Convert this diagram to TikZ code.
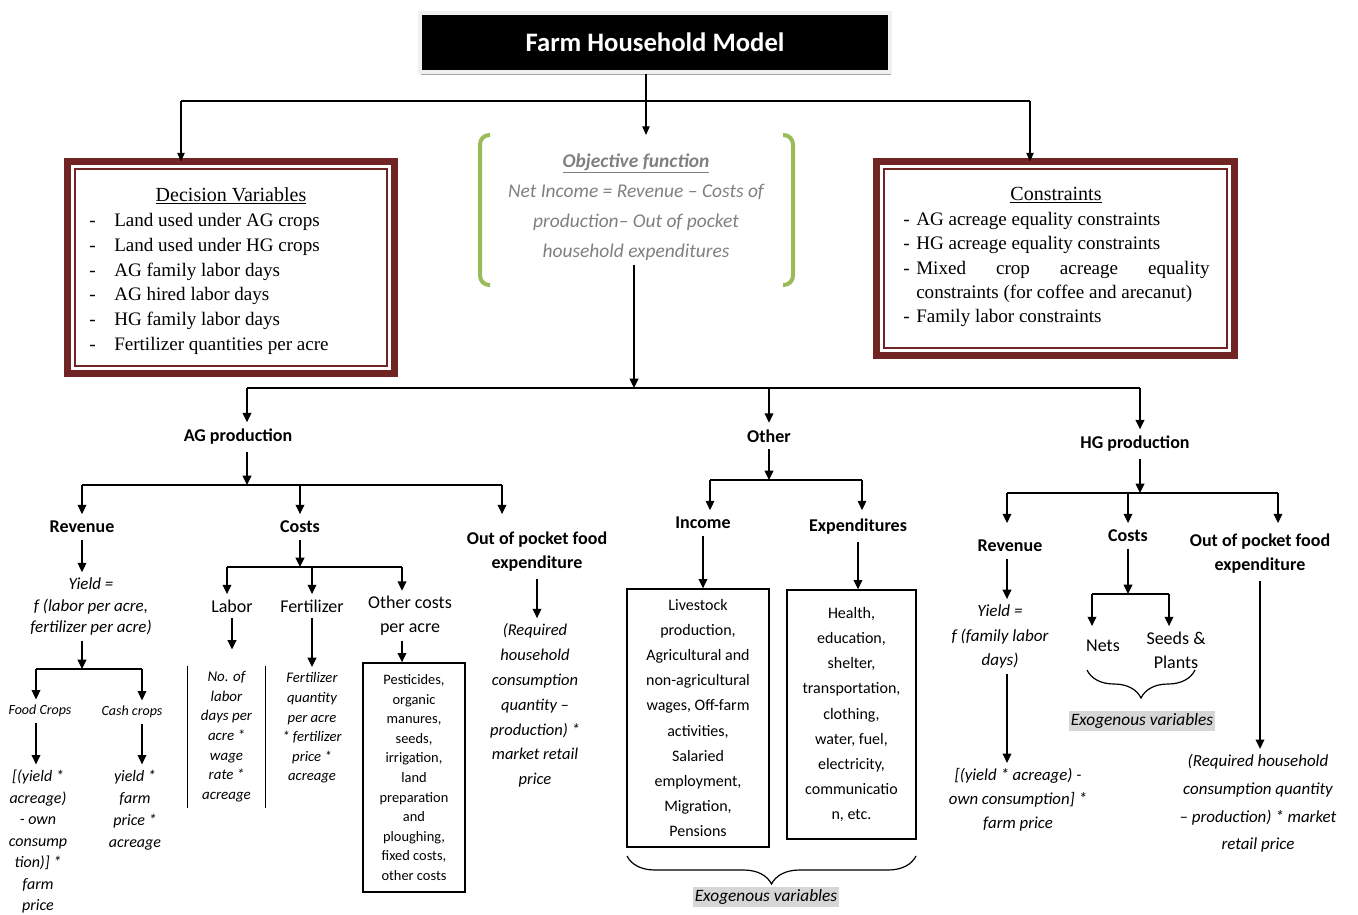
\documentclass[tikz,border=0pt]{standalone}
\usepackage{fontspec}
\setmainfont{Carlito}
\newfontfamily\boxserif{Liberation Serif}
\usetikzlibrary{arrows.meta,calc,decorations.pathreplacing,shadows}

\definecolor{boxred}{RGB}{112,36,36}
\definecolor{objgreen}{RGB}{155,187,89}
\definecolor{objgray}{RGB}{128,128,128}
\definecolor{exogray}{RGB}{214,214,214}

\newcommand{\fsz}[2]{\fontsize{#1}{#2}\selectfont}
\newcommand{\dvitem}[1]{\makebox[18.75pt][l]{-}#1}
\newcommand{\csitem}[1]{\makebox[9.75pt][l]{-}#1}

\tikzset{
  arr/.style={-{Triangle[width=6.5pt,length=7pt]}, line width=1.1pt},
  toparr/.style={-{Triangle[width=5.5pt,length=6.5pt]}, line width=0.9pt},
  toplink/.style={line width=0.9pt},
  busline/.style={line width=1.1pt},
  ttl/.style={fill=black, draw=gray!12, line width=2.5pt, text=white,
    font=\bfseries\fsz{20}{24}, minimum width=352.5pt, minimum height=44.25pt,
    drop shadow={shadow xshift=1pt, shadow yshift=-2.5pt, fill=gray!70, opacity=1}},
  redbox/.style={draw=boxred, line width=5.25pt, outer sep=0pt, fill=white, inner sep=0pt},
  boxtxt/.style={font=\boxserif\fsz{14.3}{18.5}, inner sep=0pt},
  head/.style={font=\bfseries\fsz{13.5}{18}, align=center, inner xsep=2pt, inner ysep=5pt},
  sub/.style={font=\fsz{13.5}{18}, align=center, inner xsep=2pt, inner ysep=4pt},
  frml/.style={font=\itshape\fsz{12.7}{16.1}, align=center, inner xsep=2pt, inner ysep=4pt},
  small/.style={font=\itshape\fsz{10.5}{13}, align=center, inner xsep=2pt, inner ysep=4pt},
  listbox/.style={draw, line width=1pt, align=center, font=\fsz{12}{18.8}, inner sep=0pt},
  exo/.style={fill=exogray, font=\itshape\fsz{13}{15}, inner xsep=1.5pt, inner ysep=2pt},
  brc/.style={decorate, decoration={brace, mirror, amplitude=21pt}, line width=0.9pt},
  bracket/.style={objgreen, line width=3pt, rounded corners=7pt}
}

\begin{document}
\begin{tikzpicture}[x=0.75pt,y=-0.75pt]
\useasboundingbox (0,0) rectangle (1358,914);

% Title
\node[ttl] (title) at (655,42.5) {Farm Household Model};

% Decision variables box
\node[redbox, minimum width=245.25pt, minimum height=159pt] (dv) at (231,267.5) {};
\draw[boxred, line width=1.1pt] ($(dv.north west)+(7.5,7.5)$) rectangle ($(dv.south east)-(7.5,7.5)$);
\node[boxtxt, font=\boxserif\fsz{15}{18.5}] (dvhead) at (231,196) {\underline{Decision Variables}};
\node[boxtxt, align=left, anchor=west] (dvlist) at (89,284) {%
  \dvitem{Land used under AG crops}\\
  \dvitem{Land used under HG crops}\\
  \dvitem{AG family labor days}\\
  \dvitem{AG hired labor days}\\
  \dvitem{HG family labor days}\\
  \dvitem{Fertilizer quantities per acre}};

% Constraints box
\node[redbox, minimum width=268.5pt, minimum height=145.5pt] (cs) at (1055.5,258.5) {};
\draw[boxred, line width=1.1pt] ($(cs.north west)+(7.5,7.5)$) rectangle ($(cs.south east)-(7.5,7.5)$);
\node[boxtxt, font=\boxserif\fsz{15}{18.5}] (cshead) at (1056,195) {\underline{Constraints}};
\node[boxtxt, align=left, anchor=west, font=\boxserif\fsz{14.3}{18.2}] (cslist) at (903,269.5) {%
  \csitem{AG acreage equality constraints}\\
  \csitem{HG acreage equality constraints}\\
  \csitem{\makebox[220pt][s]{Mixed\hfill crop\hfill acreage\hfill equality}}\\
  \hspace*{9.75pt}constraints (for coffee and arecanut)\\
  \csitem{Family labor constraints}};

% Objective function
\draw[bracket] (490,135) -- (480,135) -- (480,285) -- (490,285);
\draw[bracket] (783,135) -- (793,135) -- (793,285) -- (783,285);
\node[font=\itshape\fsz{14.6}{22.5}, text=objgray, align=center] (obj) at (636,207)
  {\textbf{\underline{Objective function}}\\
   Net Income = Revenue – Costs of\\
   production– Out of pocket\\
   household expenditures};

% Links from the title
\coordinate (tl) at (181,101);
\coordinate (tm) at (646,101);
\coordinate (tr) at (1030,101);
\coordinate (objtop) at (646,135);
\draw[toplink] (title.south -| tm) -- (tm);
\draw[toplink] (tl) -- (tr);
\draw[toparr] (tl) -- (tl |- dv.north);
\draw[toparr] (tm) -- (objtop);
\draw[toparr] (tr) -- (tr |- cs.north);

% Second level
\coordinate (mid) at (634,388);
\coordinate (busL) at (247,388);
\coordinate (busR) at (1140,388);
\draw[arr] (obj.south -| mid) -- (mid);
\draw[busline] (busL) -- (busR);
\node[head] (ag) at (238,437) {AG production};
\node[head] (oth) at (769,436) {Other};
\node[head] (hg) at (1135,444) {HG production};
\draw[arr] (busL) -- (busL |- ag.north);
\draw[arr] (oth |- busL) -- (oth.north);
\draw[arr] (busR) -- (busR |- hg.north);

% AG production
\coordinate (agj) at (247,485);
\coordinate (agL) at (82,485);
\coordinate (agR) at (502,485);
\draw[arr] (ag.south -| agj) -- (agj);
\draw[busline] (agL) -- (agR);
\node[head] (agrev) at (82,527) {Revenue};
\node[head] (agcost) at (300,527) {Costs};
\node[head] (agout) at (537,552) {Out of pocket food\\expenditure};
\draw[arr] (agL) -- (agrev.north);
\draw[arr] (agcost |- agL) -- (agcost.north);
\draw[arr] (agR) -- (agR |- agcost.north);

% AG revenue
\node[frml] (agyld) at (91,606.5) {Yield =\\f (labor per acre,\\fertilizer per acre)};
\draw[arr] (agrev.south) -- (agrev.south |- agyld.north);
\coordinate (fcj) at (82,669);
\coordinate (fcL) at (36,669);
\coordinate (fcR) at (142,669);
\draw[arr] (agyld.south -| fcj) -- (fcj);
\draw[busline] (fcL) -- (fcR);
\node[small] (food) at (40,711) {Food Crops};
\node[small] (cash) at (132,712) {Cash crops};
\draw[arr] (fcL) -- (fcL |- food.north);
\draw[arr] (fcR) -- (fcR |- cash.north);
\node[frml, font=\itshape\fsz{12}{16.1}] (foodv) at (38,841.5)
  {[(yield *\\acreage)\\- own\\consump\\tion)] *\\farm\\price};
\node[frml, font=\itshape\fsz{12}{16.5}] (cashv) at (135,810)
  {yield *\\farm\\price *\\acreage};
\draw[arr] (food.south -| fcL) -- (fcL |- foodv.north);
\draw[arr] (cash.south -| fcR) -- (fcR |- cashv.north);

% AG costs
\coordinate (cj) at (300,567);
\coordinate (cL) at (227,567);
\coordinate (cR) at (402,567);
\draw[arr] (agcost.south) -- (cj);
\draw[busline] (cL) -- (cR);
\node[sub] (lab) at (232,606) {Labor};
\node[sub] (fert) at (312,606) {Fertilizer};
\node[sub] (othc) at (410,616) {Other costs\\per acre};
\draw[arr] (cL) -- (cL |- lab.north);
\draw[arr] (fert.north |- cL) -- (fert.north);
\draw[arr] (cR) -- (cR |- othc.north);
\node[frml, font=\itshape\fsz{11.2}{14.75}, minimum width=57.75pt, minimum height=102.75pt] (labv) at (226.5,736.5)
  {No. of\\labor\\days per\\acre *\\wage\\rate *\\acreage};
\draw[line width=0.9pt] (labv.north west) -- (labv.south west);
\draw[line width=0.9pt] (labv.north east) -- (labv.south east);
\node[frml, font=\itshape\fsz{11}{14.7}] (fertv) at (312,728)
  {Fertilizer\\quantity\\per acre\\* fertilizer\\price *\\acreage};
\node[listbox, font=\fsz{10.8}{14.7}, minimum width=76.5pt, minimum height=171.75pt] (othv) at (414,777.5)
  {Pesticides,\\organic\\manures,\\seeds,\\irrigation,\\land\\preparation\\and\\ploughing,\\fixed costs,\\other costs};
\draw[arr, shorten >=12pt] (lab.south) -- (lab.south |- labv.north);
\draw[arr] (fert.south) -- (fertv.north);
\draw[arr] (othc.south -| cR) -- (cR |- othv.north);

% AG out of pocket
\node[frml, font=\itshape\fsz{12.4}{18.6}] (agoutv) at (535,705.5)
  {(Required\\household\\consumption\\quantity –\\production) *\\market retail\\price};
\draw[arr] (agout.south) -- (agout.south |- agoutv.north);

% Other
\coordinate (othj) at (769,480);
\coordinate (othL) at (710,480);
\coordinate (othR) at (862,480);
\draw[arr] (oth.south) -- (othj);
\draw[busline] (othL) -- (othR);
\node[head] (inc) at (703,523) {Income};
\node[head] (exp) at (858,527) {Expenditures};
\draw[arr] (othL) -- (othL |- inc.north);
\draw[arr] (othR) -- (othR |- inc.north);
\node[listbox, minimum width=106.5pt, minimum height=193.5pt] (incv) at (698,718)
  {Livestock\\production,\\Agricultural and\\non-agricultural\\wages, Off-farm\\activities,\\Salaried\\employment,\\Migration,\\Pensions};
\node[listbox, minimum width=96.75pt, minimum height=186.75pt] (expv) at (851.5,714.5)
  {Health,\\education,\\shelter,\\transportation,\\clothing,\\water, fuel,\\electricity,\\communicatio\\n, etc.};
\draw[arr] (inc.south) -- (inc.south |- incv.north);
\draw[arr] (exp.south) -- (exp.south |- expv.north);
\draw[brc] (627,856) -- (916,856);
\node[exo] (exo1) at (766,897) {Exogenous variables};

% HG production
\coordinate (hgj) at (1140,493);
\coordinate (hgL) at (1007,493);
\coordinate (hgM) at (1128,493);
\coordinate (hgR) at (1278,493);
\draw[arr] (hg.south -| hgj) -- (hgj);
\draw[busline] (hgL) -- (hgR);
\node[head] (hgrev) at (1010,546) {Revenue};
\node[head] (hgcost) at (1128,536) {Costs};
\node[head] (hgout) at (1260,554) {Out of pocket food\\expenditure};
\draw[arr] (hgL) -- (hgL |- hgcost.north);
\draw[arr] (hgM) -- (hgcost.north);
\draw[arr] (hgR) -- (hgR |- hgcost.north);

% HG revenue
\node[frml, font=\itshape\fsz{12.8}{18.4}] (hgyld) at (1000,636.5) {Yield =\\f (family labor\\days)};
\node[frml, font=\itshape\fsz{12.6}{18}] (hgv) at (1018,800)
  {[(yield * acreage) -\\own consumption] *\\farm price};
\draw[arr] (hgrev.south -| hgL) -- (hgL |- hgyld.north);
\draw[arr] (hgyld.south -| hgL) -- (hgL |- hgv.north);

% HG costs
\coordinate (ncj) at (1128,594);
\coordinate (nL) at (1092,594);
\coordinate (nR) at (1169,594);
\draw[arr] (hgcost.south) -- (ncj);
\draw[busline] (nL) -- (nR);
\node[sub] (nets) at (1103,646) {Nets};
\node[sub] (seeds) at (1176,650) {Seeds \&\\Plants};
\draw[arr] (nL) -- (nL |- seeds.north);
\draw[arr] (nR) -- (nR |- seeds.north);
\draw[brc] (1087,670) -- (1195,670);
\node[exo] (exo2) at (1142,721) {Exogenous variables};

% HG out of pocket
\node[frml, font=\itshape\fsz{12.7}{20.75}] (hgoutv) at (1258,803.5)
  {(Required household\\consumption quantity\\– production) * market\\retail price};
\draw[arr] (hgout.south) -- (hgout.south |- hgoutv.north);
\end{tikzpicture}
\end{document}
